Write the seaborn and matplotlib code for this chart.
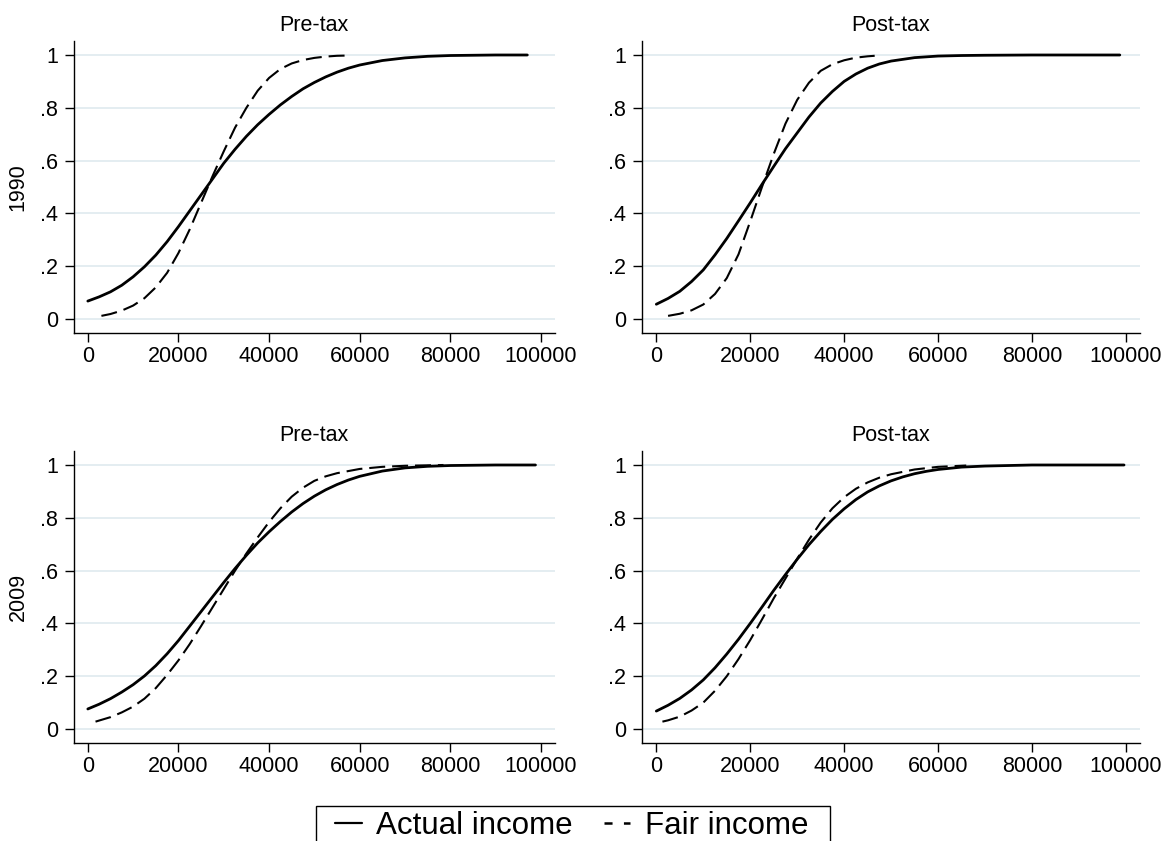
import matplotlib
matplotlib.use("Agg")
import matplotlib.pyplot as plt
from matplotlib.lines import Line2D
from matplotlib.patches import Rectangle
import pandas as pd
import seaborn as sns

# ---------------- data: cumulative share of households by income ----------------
# 1990, pre-tax
x_1990_pre_actual = [0, 2500, 5000, 7500, 10000, 12500, 15000, 17500, 20000, 22500,
                     25000, 27500, 30000, 32500, 35000, 37500, 40000, 42500, 45000,
                     47500, 50000, 52500, 55000, 57500, 60000, 65000, 70000, 75000,
                     80000, 90000, 97000]
y_1990_pre_actual = [0.068, 0.084, 0.103, 0.128, 0.16, 0.198, 0.242, 0.293, 0.35, 0.41,
                     0.47, 0.53, 0.59, 0.643, 0.692, 0.736, 0.775, 0.811, 0.843,
                     0.872, 0.896, 0.917, 0.935, 0.95, 0.962, 0.979, 0.989, 0.995,
                     0.998, 1.0, 1.0]
x_1990_pre_fair = [3000, 5000, 7500, 10000, 12500, 15000, 17500, 20000, 22500, 25000,
                   27500, 30000, 32500, 35000, 37500, 40000, 42500, 45000, 47500,
                   50000, 52500, 55000, 57500]
y_1990_pre_fair = [0.012, 0.019, 0.032, 0.051, 0.079, 0.12, 0.175, 0.25, 0.34, 0.44,
                   0.54, 0.635, 0.725, 0.80, 0.865, 0.913, 0.947, 0.968, 0.981,
                   0.989, 0.994, 0.997, 0.998]

# 1990, post-tax
x_1990_post_actual = [0, 2500, 5000, 7500, 10000, 12500, 15000, 17500, 20000, 22500,
                      25000, 27500, 30000, 32500, 35000, 37500, 40000, 42500, 45000,
                      47500, 50000, 55000, 60000, 65000, 70000, 80000, 90000, 98700]
y_1990_post_actual = [0.056, 0.078, 0.105, 0.142, 0.186, 0.243, 0.305, 0.372, 0.44, 0.51,
                      0.578, 0.645, 0.705, 0.765, 0.818, 0.862, 0.9, 0.928, 0.95,
                      0.966, 0.977, 0.99, 0.996, 0.998, 0.999, 1.0, 1.0, 1.0]
x_1990_post_fair = [2500, 5000, 7500, 10000, 12500, 15000, 17500, 20000, 22500, 25000,
                    27500, 30000, 32500, 35000, 37500, 40000, 42500, 45000, 46500]
y_1990_post_fair = [0.012, 0.02, 0.033, 0.055, 0.095, 0.155, 0.245, 0.37, 0.5, 0.625,
                    0.74, 0.83, 0.895, 0.94, 0.965, 0.98, 0.99, 0.995, 0.997]

# 2009, pre-tax
x_2009_pre_actual = [0, 2500, 5000, 7500, 10000, 12500, 15000, 17500, 20000, 22500,
                     25000, 27500, 30000, 32500, 35000, 37500, 40000, 42500, 45000,
                     47500, 50000, 52500, 55000, 57500, 60000, 65000, 70000, 75000,
                     80000, 90000, 98800]
y_2009_pre_actual = [0.076, 0.094, 0.115, 0.14, 0.168, 0.201, 0.24, 0.285, 0.335, 0.39,
                     0.445, 0.50, 0.555, 0.608, 0.658, 0.705, 0.747, 0.786, 0.822,
                     0.854, 0.882, 0.906, 0.926, 0.943, 0.957, 0.977, 0.989, 0.995,
                     0.998, 1.0, 1.0]
x_2009_pre_fair = [1700, 5000, 7500, 10000, 12500, 15000, 17500, 20000, 22500, 25000,
                   27500, 30000, 32500, 35000, 37500, 40000, 42500, 45000, 47500,
                   50000, 52500, 55000, 60000, 65000, 70000, 78500]
y_2009_pre_fair = [0.028, 0.045, 0.063, 0.085, 0.115, 0.155, 0.205, 0.26, 0.322, 0.39,
                   0.46, 0.53, 0.60, 0.665, 0.726, 0.784, 0.836, 0.88, 0.914,
                   0.94, 0.957, 0.969, 0.985, 0.993, 0.997, 1.0]

# 2009, post-tax
x_2009_post_actual = [0, 2500, 5000, 7500, 10000, 12500, 15000, 17500, 20000, 22500,
                      25000, 27500, 30000, 32500, 35000, 37500, 40000, 42500, 45000,
                      47500, 50000, 52500, 55000, 57500, 60000, 65000, 70000, 75000,
                      80000, 90000, 99600]
y_2009_post_actual = [0.068, 0.09, 0.116, 0.148, 0.186, 0.232, 0.284, 0.34, 0.4, 0.462,
                      0.525, 0.585, 0.643, 0.698, 0.748, 0.794, 0.834, 0.869, 0.898,
                      0.921, 0.94, 0.955, 0.967, 0.976, 0.983, 0.992, 0.996, 0.998,
                      1.0, 1.0, 1.0]
x_2009_post_fair = [1300, 2500, 5000, 7500, 10000, 12500, 15000, 17500, 20000, 22500,
                    25000, 27500, 30000, 32500, 35000, 37500, 40000, 42500, 45000,
                    47500, 50000, 55000, 60000, 66000]
y_2009_post_fair = [0.028, 0.033, 0.047, 0.07, 0.10, 0.145, 0.2, 0.265, 0.337, 0.415,
                    0.495, 0.57, 0.645, 0.717, 0.782, 0.836, 0.878, 0.91, 0.934,
                    0.952, 0.965, 0.983, 0.993, 0.998]

years = ["1990", "2009"]
measures = ["Pre-tax", "Post-tax"]
series_names = ["Actual income", "Fair income"]
x_ticks = [0, 20000, 40000, 60000, 80000, 100000]
x_tick_labels = ["0", "20000", "40000", "60000", "80000", "100000"]
y_ticks = [0, 0.2, 0.4, 0.6, 0.8, 1.0]
y_tick_labels = ["0", ".2", ".4", ".6", ".8", "1"]

panels = {
    ("1990", "Pre-tax"): (x_1990_pre_actual, y_1990_pre_actual, x_1990_pre_fair, y_1990_pre_fair),
    ("1990", "Post-tax"): (x_1990_post_actual, y_1990_post_actual, x_1990_post_fair, y_1990_post_fair),
    ("2009", "Pre-tax"): (x_2009_pre_actual, y_2009_pre_actual, x_2009_pre_fair, y_2009_pre_fair),
    ("2009", "Post-tax"): (x_2009_post_actual, y_2009_post_actual, x_2009_post_fair, y_2009_post_fair),
}

# ---------------- style ----------------
sns.set_theme(style="white")
plt.rcParams["font.family"] = ["Liberation Sans", "DejaVu Sans"]
plt.rcParams["lines.scale_dashes"] = False
plt.rcParams["text.color"] = "black"

W, H = 1171, 841
fig = plt.figure(figsize=(W / 100, H / 100), dpi=100, facecolor="white")


def px_rect(left, right, top, bottom):
    return [left / W, 1 - bottom / H, (right - left) / W, (bottom - top) / H]


col_px = {"Pre-tax": (74, 554.5), "Post-tax": (642, 1140)}
row_px = {"1990": (41, 332.5), "2009": (451, 742.5)}

GRID = "#e4edf1"
TICK_FS = 15.5
DASH = (0, (11.5, 5.0))

for year in years:
    for measure in measures:
        l, r = col_px[measure]
        t, b = row_px[year]
        ax = fig.add_axes(px_rect(l, r, t, b))
        xa, ya, xf, yf = panels[(year, measure)]
        df_a = pd.DataFrame({"income": xa, "share": ya})
        df_f = pd.DataFrame({"income": xf, "share": yf})

        ax.yaxis.grid(True, color=GRID, linewidth=1.4)
        ax.xaxis.grid(False)
        ax.set_axisbelow(True)

        sns.lineplot(data=df_a, x="income", y="share", color="black",
                     linewidth=2.0, ax=ax, sort=False, estimator=None,
                     label=series_names[0], legend=False,
                     solid_joinstyle="round", solid_capstyle="round")
        sns.lineplot(data=df_f, x="income", y="share", color="black",
                     linewidth=1.5, linestyle=DASH, ax=ax, sort=False,
                     estimator=None, label=series_names[1], legend=False)

        ax.set_xlim(-3050, 103000)
        ax.set_ylim(-0.051, 1.053)
        ax.set_xticks(x_ticks, labels=x_tick_labels)
        ax.set_yticks(y_ticks, labels=y_tick_labels)
        ax.set_xlabel("")
        ax.set_ylabel("")
        for side in ("top", "right"):
            ax.spines[side].set_visible(False)
        for side in ("left", "bottom"):
            ax.spines[side].set_color("black")
            ax.spines[side].set_linewidth(1.0)
        ax.tick_params(axis="both", which="major", direction="out", length=6.5,
                       width=1.0, color="black", labelsize=TICK_FS,
                       labelcolor="black", left=True, bottom=True)
        ax.tick_params(axis="y", pad=5)
        ax.tick_params(axis="x", pad=3.5)
        ax.set_title(measure, fontsize=TICK_FS, color="black", pad=7)

# row labels
for year in years:
    t, b = row_px[year]
    fig.text(18 / W, 1 - ((t + b) / 2) / H, year, rotation=90,
             ha="center", va="center", fontsize=TICK_FS, color="black")

# legend below the panels
handles = [
    Line2D([], [], color="black", linewidth=1.6, linestyle="-"),
    Line2D([], [], color="black", linewidth=1.8, linestyle=(0, (5.8, 8.2))),
]
leg = fig.legend(handles, series_names, loc="upper left",
                 bbox_to_anchor=(335 / W, 1 - 811 / H), ncol=2, frameon=False,
                 fontsize=22.5, handlelength=0.85, handletextpad=0.46,
                 columnspacing=1.0, borderpad=0.0, borderaxespad=0.0,
                 labelcolor="black")
fig.patches.append(Rectangle((316 / W, -0.05), (830 - 316) / W, 1 - 806 / H + 0.05,
                             transform=fig.transFigure, fill=False,
                             edgecolor="black", linewidth=1.0))

fig.savefig("out.png", dpi=100, facecolor="white")
